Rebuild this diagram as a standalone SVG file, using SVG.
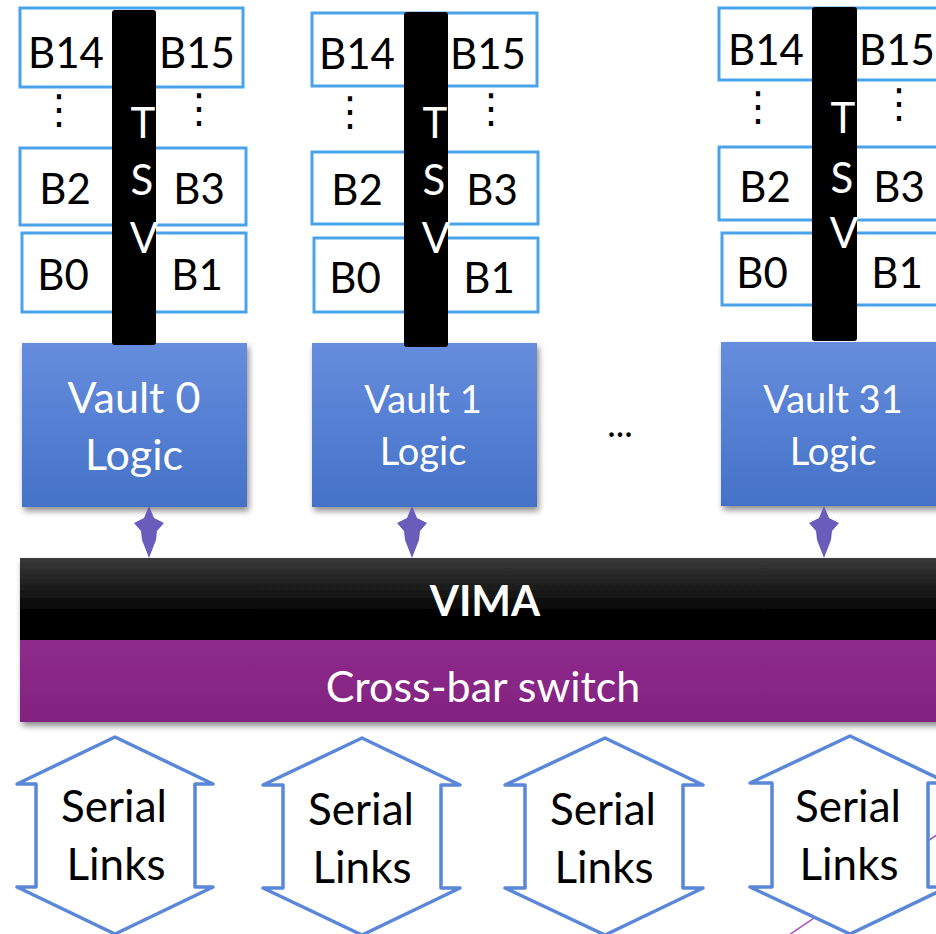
<svg xmlns="http://www.w3.org/2000/svg" width="936" height="934" viewBox="0 0 936 934">
<defs>
<style>
.bank{fill:#fff;stroke:#4aa3e8;stroke-width:3}
.tsv{fill:#000}
.lbl{font-family:Lato,"Open Sans",sans-serif;font-size:42px;fill:#000;text-anchor:middle}
.tsvt{font-family:Lato,"Open Sans",sans-serif;font-size:42px;fill:#fff;text-anchor:middle}
.dots{font-family:"DejaVu Sans",sans-serif;font-size:40px;fill:#000;text-anchor:middle}
.logic{fill:url(#gBlue);filter:url(#sh)}
.lt{font-family:Lato,"Open Sans",sans-serif;fill:#fff;text-anchor:middle}
.arr{fill:#6a5cba}
.sl{fill:#fff;stroke:#5b87d9;stroke-width:3.5;stroke-linejoin:round}
.slt{font-family:Lato,"Open Sans",sans-serif;font-size:44px;fill:#000;text-anchor:middle}
</style>
<linearGradient id="gBlue" x1="0" y1="0" x2="0" y2="1">
<stop offset="0" stop-color="#668ddd"/>
<stop offset="1" stop-color="#4472c8"/>
</linearGradient>
<linearGradient id="gBlack" x1="0" y1="0" x2="0" y2="1">
<stop offset="0" stop-color="#3a3a3a"/>
<stop offset="0.7" stop-color="#000"/>
<stop offset="1" stop-color="#000"/>
</linearGradient>
<linearGradient id="gPurp" x1="0" y1="0" x2="0" y2="1">
<stop offset="0" stop-color="#8e2b8c"/>
<stop offset="1" stop-color="#822280"/>
</linearGradient>
<filter id="sh" x="-10%" y="-10%" width="125%" height="130%">
<feGaussianBlur in="SourceAlpha" stdDeviation="3"/>
<feOffset dx="2" dy="4" result="b"/>
<feComponentTransfer><feFuncA type="linear" slope="0.45"/></feComponentTransfer>
<feMerge><feMergeNode/><feMergeNode in="SourceGraphic"/></feMerge>
</filter>
</defs>
<rect width="936" height="934" fill="#fff"/>

<g id="vault0">
<rect class="bank" x="20" y="8" width="223" height="79"/>
<rect class="bank" x="20" y="148" width="226" height="77"/>
<rect class="bank" x="22" y="233" width="224" height="79"/>
<text class="lbl" x="66" y="68">B14</text>
<text class="lbl" x="197" y="68">B15</text>
<text class="dots" x="59" y="123">⋮</text>
<text class="dots" x="199" y="122">⋮</text>
<text class="lbl" x="65" y="204">B2</text>
<text class="lbl" x="199" y="204">B3</text>
<text class="lbl" x="63" y="290">B0</text>
<text class="lbl" x="197" y="290">B1</text>
<rect class="logic" x="22" y="343" width="225" height="164"/>
<rect class="tsv" x="112" y="10" width="44" height="335" rx="3"/>
<text class="tsvt" x="143" y="138">T</text>
<text class="tsvt" x="142" y="195">S</text>
<text class="tsvt" x="144" y="253">V</text>
<text class="lt" x="134" y="413" font-size="43">Vault 0</text>
<text class="lt" x="134" y="470" font-size="43">Logic</text>
</g>

<g id="vault1">
<rect class="bank" x="312" y="13" width="225" height="73"/>
<rect class="bank" x="312" y="152" width="226" height="72"/>
<rect class="bank" x="314" y="238" width="224" height="74"/>
<text class="lbl" x="357" y="69">B14</text>
<text class="lbl" x="488" y="69">B15</text>
<text class="dots" x="350" y="125">⋮</text>
<text class="dots" x="491" y="122">⋮</text>
<text class="lbl" x="357" y="205">B2</text>
<text class="lbl" x="492" y="205">B3</text>
<text class="lbl" x="355" y="293">B0</text>
<text class="lbl" x="489" y="293">B1</text>
<rect class="logic" x="312" y="343" width="225" height="164"/>
<rect class="tsv" x="404" y="12" width="44" height="335" rx="3"/>
<text class="tsvt" x="435" y="138">T</text>
<text class="tsvt" x="434" y="195">S</text>
<text class="tsvt" x="436" y="253">V</text>
<text class="lt" x="423" y="413" font-size="38">Vault 1</text>
<text class="lt" x="423" y="465" font-size="38">Logic</text>
</g>

<g id="dots-mid">
<text x="620" y="437" font-family="Lato,'Open Sans',sans-serif" font-size="36" fill="#000" text-anchor="middle">...</text>
</g>

<g id="vault31">
<rect class="bank" x="719" y="8" width="230" height="72"/>
<rect class="bank" x="719" y="147" width="230" height="73"/>
<rect class="bank" x="722" y="233" width="230" height="72"/>
<text class="lbl" x="766" y="65">B14</text>
<text class="lbl" x="897" y="65">B15</text>
<text class="dots" x="758" y="120">⋮</text>
<text class="dots" x="899" y="117">⋮</text>
<text class="lbl" x="765" y="202">B2</text>
<text class="lbl" x="899" y="202">B3</text>
<text class="lbl" x="762" y="288">B0</text>
<text class="lbl" x="897" y="288">B1</text>
<rect class="logic" x="721" y="342" width="228" height="164"/>
<rect class="tsv" x="812" y="7" width="45" height="334" rx="3"/>
<text class="tsvt" x="843" y="133">T</text>
<text class="tsvt" x="842" y="193">S</text>
<text class="tsvt" x="844" y="248">V</text>
<text class="lt" x="833" y="413" font-size="38">Vault 31</text>
<text class="lt" x="833" y="465" font-size="38">Logic</text>
</g>

<g id="connectors">
<polygon class="arr" points="149,506 154,518 164,523 157,531 156,540 149,558 142,540 141,531 134,523 144,518"/>
<polygon class="arr" points="412,506 417,518 427,523 420,531 419,540 412,558 405,540 404,531 397,523 407,518"/>
<polygon class="arr" points="824,506 829,518 839,523 832,531 831,540 824,558 817,540 816,531 809,523 819,518"/>
</g>

<g id="vima">
<rect x="20" y="558" width="930" height="82" fill="url(#gBlack)" filter="url(#sh)"/>
<text x="485" y="616" font-family="Lato,'Open Sans',sans-serif" font-size="42" font-weight="bold" fill="#fff" text-anchor="middle">VIMA</text>
</g>

<g id="crossbar">
<rect x="20" y="640" width="930" height="82" fill="url(#gPurp)" filter="url(#sh)"/>
<text x="483" y="702" font-family="Lato,'Open Sans',sans-serif" font-size="43" fill="#fff" text-anchor="middle">Cross-bar switch</text>
</g>

<line x1="786" y1="937" x2="950" y2="826" stroke="#b050c0" stroke-width="1.5"/>

<g id="serial0">
<polygon class="sl" points="115,737 213,784 195,784 195,887 213,887 115,934 17,887 36,887 36,784 17,784"/>
<text class="slt" x="114" y="822">Serial</text>
<text class="slt" x="116" y="880">Links</text>
</g>
<g id="serial1">
<polygon class="sl" points="362,738 460,785 441,785 441,888 460,888 362,935 263,888 283,888 283,785 263,785"/>
<text class="slt" x="361" y="825">Serial</text>
<text class="slt" x="362" y="883">Links</text>
</g>
<g id="serial2">
<polygon class="sl" points="605,738 703,785 683,785 683,888 703,888 605,935 505,888 525,888 525,785 505,785"/>
<text class="slt" x="603" y="825">Serial</text>
<text class="slt" x="604" y="883">Links</text>
</g>
<g id="serial3">
<polygon class="sl" points="850,736 948,783 928,783 928,887 948,887 850,934 750,887 772,887 772,783 750,783"/>
<text class="slt" x="848" y="822">Serial</text>
<text class="slt" x="849" y="880">Links</text>
</g>
</svg>
